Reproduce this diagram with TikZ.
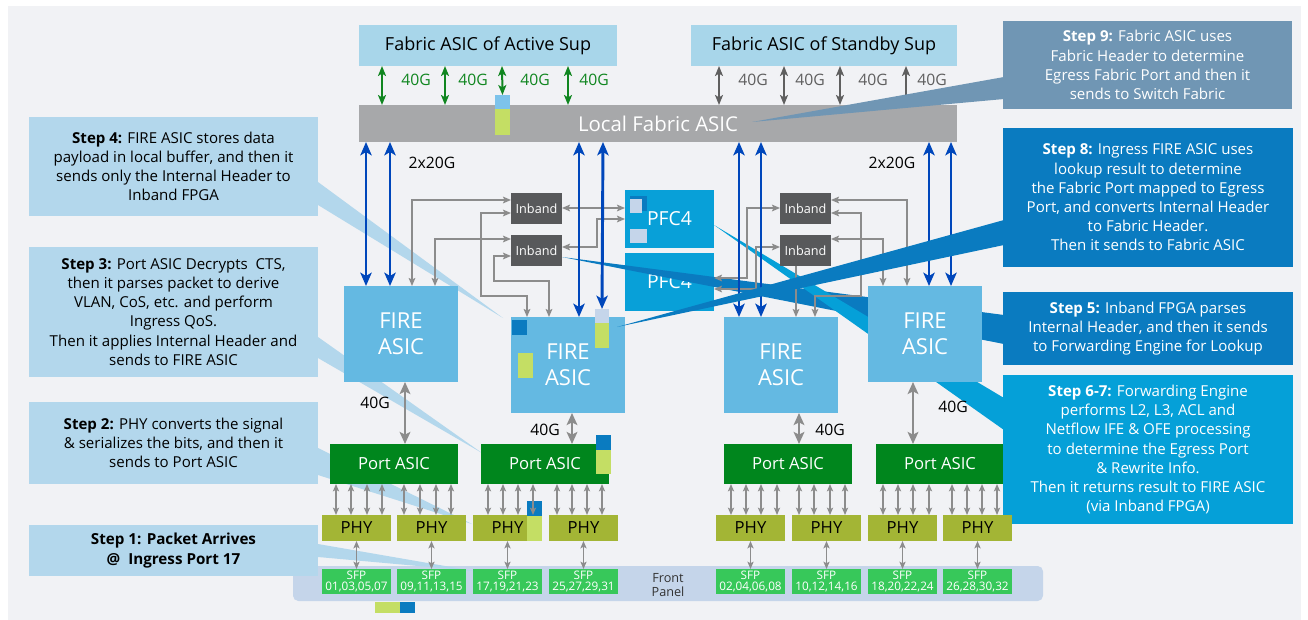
\documentclass[tikz,border=0pt]{standalone}
\usepackage{fontspec}
\setmainfont{Open Sans}
\usetikzlibrary{arrows.meta}

\definecolor{bgc}{RGB}{241,242,245}
\definecolor{supc}{RGB}{168,214,234}
\definecolor{lfac}{RGB}{167,168,170}
\definecolor{firec}{RGB}{100,185,226}
\definecolor{pfcc}{RGB}{8,160,216}
\definecolor{inbc}{RGB}{88,89,91}
\definecolor{pac}{RGB}{0,134,29}
\definecolor{phyc}{RGB}{163,181,53}
\definecolor{sfpc}{RGB}{55,200,90}
\definecolor{fpc}{RGB}{197,213,234}
\definecolor{lblue}{RGB}{179,215,236}
\definecolor{steel}{RGB}{112,150,180}
\definecolor{dblue}{RGB}{10,123,192}
\definecolor{cblue}{RGB}{5,160,216}
\definecolor{royal}{RGB}{0,71,187}
\definecolor{wire}{RGB}{140,140,140}
\definecolor{dgray}{RGB}{95,95,95}
\definecolor{gline}{RGB}{16,134,32}
\definecolor{mkblue}{RGB}{125,195,235}
\definecolor{mkgreen}{RGB}{196,222,100}
\definecolor{mklav}{RGB}{197,213,234}

\newcommand{\fsCall}{\fontsize{11.3}{14.4}\selectfont}
\newcommand{\fsOne}{\fontsize{11.4}{15.2}\selectfont\bfseries}
\newcommand{\fsSup}{\fontsize{13.5}{15}\selectfont}
\newcommand{\fsLfa}{\fontsize{15.3}{17}\selectfont}
\newcommand{\fsLbl}{\fontsize{11.8}{13}\selectfont}
\newcommand{\fsFire}{\fontsize{16.5}{19.5}\selectfont}
\newcommand{\fsPfc}{\fontsize{14.5}{16}\selectfont}
\newcommand{\fsInb}{\fontsize{9.5}{11}\selectfont}
\newcommand{\fsPa}{\fontsize{12.5}{15}\selectfont}
\newcommand{\fsSfp}{\fontsize{8.8}{8.9}\selectfont}
\newcommand{\fsFp}{\fontsize{9.5}{11}\selectfont}

\tikzset{
  % a block given by its left, top, right and bottom edges
  area/.style args={#1/#2/#3/#4}{
    minimum width={(#3-#1)*0.75pt}, minimum height={(#4-#2)*0.75pt},
    at={({(#1+#3)/2},{(#2+#4)/2})}},
  box/.style={inner sep=0pt, outer sep=0pt, align=center},
  callout/.style={box, font=\fsCall},
  fire/.style={box, fill=firec, text=white, font=\fsFire},
  inb/.style={box, fill=inbc, text=white, font=\fsInb},
  pfc/.style={box, fill=pfcc, text=white, font=\fsPfc},
  pasic/.style={box, fill=pac, text=white, font=\fsPa},
  phyb/.style={box, fill=phyc, text=black, font=\fsPa},
  sfpb/.style={box, fill=sfpc, text=white, font=\fsSfp},
  gw/.style={draw=wire, line width=1.1pt,
    {Stealth[length=6pt,width=5pt,inset=1.2pt]}-{Stealth[length=6pt,width=5pt,inset=1.2pt]}},
  gwone/.style={draw=wire, line width=1.1pt, -{Stealth[length=6pt,width=5pt,inset=1.2pt]}},
  pw/.style={draw=wire, line width=1.1pt,
    {Stealth[length=5.5pt,width=4.6pt,inset=1.2pt]}-{Stealth[length=5.5pt,width=4.6pt,inset=1.2pt]}},
  bigg/.style={draw=wire, line width=2pt,
    {Stealth[length=9pt,width=8pt,inset=2pt]}-{Stealth[length=9pt,width=8pt,inset=2pt]}},
  barr/.style={draw=royal, line width=2.2pt,
    {Stealth[length=10pt,width=8.5pt,inset=2.5pt]}-{Stealth[length=10pt,width=8.5pt,inset=2.5pt]}},
  grarr/.style={draw=gline, line width=1.5pt,
    {Stealth[length=7.5pt,width=6pt,inset=1.8pt]}-{Stealth[length=7.5pt,width=6pt,inset=1.8pt]}},
  sbarr/.style={draw=dgray, line width=1.5pt,
    {Stealth[length=7.5pt,width=6pt,inset=1.8pt]}-{Stealth[length=7.5pt,width=6pt,inset=1.8pt]}},
  lbl/.style={inner sep=0pt, font=\fsLbl},
}

\begin{document}
\begin{tikzpicture}[x=0.75pt,y=-0.75pt]
\useasboundingbox (0,0) rectangle (1308,620);
\fill[white] (0,0) rectangle (1308,620);
\fill[bgc] (8,6) rectangle (1301,620);

% front panel strip
\node[box, fill=fpc, rounded corners=4pt, area=293/566/1043/601] (fp) {};
\node[box, font=\fsFp, text=black!80] (fptxt) at (668,585) {Front\\Panel};

% supervisor fabric ASICs and local fabric ASIC
\node[box, fill=supc, font=\fsSup, area=359/25/617/66] (act) {Fabric ASIC of Active Sup};
\node[box, fill=supc, font=\fsSup, area=691/25/957/66] (stb) {Fabric ASIC of Standby Sup};
\node[box, fill=lfac, text=white, font=\fsLfa, area=359/105/957/142] (lfa) {Local Fabric ASIC};
\node[box, fill=mkblue, area=495/95/510/109] (mkl) {};
\node[box, fill=mkgreen, area=495/109/510/135] (mkl2) {};

% links to the supervisors
\foreach \x in {382,445,568} \draw[grarr] (\x,0 |- act.south) -- (\x,0 |- lfa.north);
\draw[grarr] (502,0 |- act.south) -- (mkl.north);
\foreach \x/\t in {416/a1,473/a2,535/a3,594/a4}
  \node[lbl, text=gline] (\t) at (\x,80) {40G};
\foreach \x in {719,784,840,906} \draw[sbarr] (\x,0 |- stb.south) -- (\x,0 |- lfa.north);
\foreach \x/\t in {753/s1,810/s2,873/s3,932/s4}
  \node[lbl, text=dgray] (\t) at (\x,80) {40G};

% forwarding engines
\node[pfc, area=625/190/714/248] (pfcA) {PFC4};
\node[pfc, area=625/253/714/311] (pfcB) {PFC4};
\fill[dblue] (630,196) rectangle (647,211);
\fill[mklav] (630,199) rectangle (642,213);
\fill[mklav] (630,229) rectangle (647,243);

% callout pointers drawn beneath the blocks
\coordinate (t3) at (482,453);
\coordinate (t4) at (503,318);
\coordinate (t5) at (562,257);
\coordinate (t67) at (714,225);
\coordinate (t2) at (472,524);
\coordinate (t1) at (474,571);
\fill[lblue] (318,337) -- (318,358) -- (t3) -- cycle;
\fill[lblue] (318,182) -- (318,205) -- (t4) -- cycle;
\fill[lblue] (318,448) -- (318,475) -- (t2) -- cycle;
\fill[lblue] (318,544) -- (318,557) -- (t1) -- cycle;
\fill[dblue] (1004,315) -- (1004,344) -- (t5) -- cycle;
\fill[cblue] (1004,398) -- (1004,430) -- (t67) -- cycle;

% FIRE ASICs
\node[fire, area=344/286/458/382] (fire1) {FIRE\\ASIC};
\node[fire, area=511/317/625/413] (fire2) {FIRE\\ASIC};
\node[fire, area=724/317/838/413] (fire3) {FIRE\\ASIC};
\node[fire, area=868/286/982/382] (fire4) {FIRE\\ASIC};
\fill[dblue] (512,320) rectangle (527,335);
\fill[mkgreen] (518,353) rectangle (533,378);
\node[box, fill=mklav, area=595/309/609/323] (mkf) {};
\fill[mkgreen] (595,323) rectangle (609,348);

% inband FPGAs
\node[inb, area=511/193/562/224] (ib1) {Inband};
\node[inb, area=511/235/562/266] (ib2) {Inband};
\node[inb, area=780/193/831/224] (ib3) {Inband};
\node[inb, area=780/235/831/266] (ib4) {Inband};

% inband wiring, left half
\draw[gw] (412,0 |- fire1.north) |- (ib1.west |- 0,200);
\draw[gw] (435,0 |- fire1.north) |- (ib2.west |- 0,239);
\draw[gw] (527,0 |- fire2.north) -- (527,296) -- (481,296) |- (ib1.west |- 0,213);
\draw[gw] (549,0 |- fire2.north) -- (549,281) -- (494,281) |- (ib2.west |- 0,256);
\draw[gw] (ib1.east |- 0,208) -- (pfcA.west |- 0,208);
\draw[gw] (ib2.east |- 0,247) -- (597,247) |- (pfcA.west |- 0,219);
% inband wiring, right half
\draw[gw] (pfcB.east |- 0,278) -- (747,278) |- (ib3.west |- 0,208);
\draw[gw] (pfcB.east |- 0,289) -- (756,289) |- (ib4.west |- 0,247);
\draw[gw] (ib3.east |- 0,200) -| (907,0 |- fire4.north);
\draw[gw] (ib3.east |- 0,213) -- (861,213) -- (861,296) -- (815,296) -- (815,0 |- fire3.north);
\draw[gw] (ib4.east |- 0,239) -| (883,0 |- fire4.north);
\draw[gwone] (796,0 |- ib4.south) -- (796,0 |- fire3.north);

% 2x20G links to the local fabric ASIC
\foreach \x in {366,390} \draw[barr] (\x,0 |- lfa.south) -- (\x,0 |- fire1.north);
\draw[barr] (579,0 |- lfa.south) -- (579,0 |- fire2.north);
\draw[barr] (603,0 |- lfa.south) -- (mkf.north);
\foreach \x in {739,761} \draw[barr] (\x,0 |- lfa.south) -- (\x,0 |- fire3.north);
\foreach \x in {929,951} \draw[barr] (\x,0 |- lfa.south) -- (\x,0 |- fire4.north);
\node[lbl] (bw1) at (432,163) {2x20G};
\node[lbl] (bw2) at (892,163) {2x20G};

% port ASICs
\node[pasic, area=330/444/458/484] (pa1) {Port ASIC};
\node[pasic, area=481/444/609/484] (pa2) {Port ASIC};
\node[pasic, area=724/444/852/484] (pa3) {Port ASIC};
\node[pasic, area=876/444/1004/484] (pa4) {Port ASIC};
\fill[dblue] (596,435) rectangle (611,450);
\fill[mkgreen] (596,450) rectangle (611,474);

% FIRE ASIC to port ASIC links
\draw[bigg] (405,0 |- fire1.south) -- (405,0 |- pa1.north);
\draw[bigg] (572,0 |- fire2.south) -- (572,0 |- pa2.north);
\draw[bigg] (799,0 |- fire3.south) -- (799,0 |- pa3.north);
\draw[bigg] (913,0 |- fire4.south) -- (913,0 |- pa4.north);
\node[lbl] (g1) at (375,403) {40G};
\node[lbl] (g2) at (545,430) {40G};
\node[lbl] (g3) at (830,430) {40G};
\node[lbl] (g4) at (953,407) {40G};

% callout boxes
\node[callout, fill=steel, text=white, area=1003/21/1292/109] (s9)
  {\textbf{Step 9:} Fabric ASIC uses\\Fabric Header to determine\\Egress Fabric Port and then it\\sends to Switch Fabric};
\coordinate (t9) at (752,122);
\fill[steel] (1004,77) -- (1004,99) -- (t9) -- cycle;
\node[callout, fill=lblue, area=29/117/318/216] (s4)
  {\textbf{Step 4:} FIRE ASIC stores data\\payload in local buffer, and then it\\sends only the Internal Header to\\Inband FPGA};
\node[callout, fill=lblue, area=29/247/318/377] (s3)
  {\textbf{Step 3:} Port ASIC Decrypts\ \ CTS,\\then it parses packet to derive\\VLAN, CoS, etc. and perform\\Ingress QoS.\\Then it applies Internal Header and\\sends to FIRE ASIC};
\node[callout, fill=lblue, area=29/402/318/484] (s2)
  {\textbf{Step 2:} PHY converts the signal\\\& serializes the bits, and then it\\sends to Port ASIC};
\node[callout, fill=lblue, font=\fsOne, area=29/525/318/576] (s1)
  {Step 1: Packet Arrives\\@\ \ Ingress Port 17};
\coordinate (t8) at (617,327);
\fill[dblue] (1004,220) -- (1004,245) -- (t8) -- cycle;
\node[callout, fill=dblue, text=white, area=1003/128/1293/267] (s8)
  {\textbf{Step 8:} Ingress FIRE ASIC uses\\lookup result to determine\\the Fabric Port mapped to Egress\\Port, and converts Internal Header\\to Fabric Header.\\Then it sends to Fabric ASIC};
\node[callout, fill=dblue, text=white, area=1003/292/1293/365] (s5)
  {\textbf{Step 5:} Inband FPGA parses\\Internal Header, and then it sends\\to Forwarding Engine for Lookup};
\node[callout, fill=cblue, text=white, area=1003/375/1293/524] (s67)
  {\textbf{Step 6-7:} Forwarding Engine\\performs L2, L3, ACL and\\Netflow IFE \& OFE processing\\to determine the Egress Port\\\& Rewrite Info.\\Then it returns result to FIRE ASIC\\(via Inband FPGA)};

% PHYs and SFP cages
\foreach \n/\a/\b in {1/322/391,2/397/466,3/473/542,4/549/618,5/716/785,6/792/861,7/868/937,8/943/1012}{
  \node[phyb, area=\a/515/\b/541] (phy\n) {PHY};
}
\foreach \n/\a/\b/\t in {1/322/391/{01,03,05,07},2/397/466/{09,11,13,15},3/473/542/{17,19,21,23},4/549/618/{25,27,29,31},
  5/716/785/{02,04,06,08},6/792/861/{10,12,14,16},7/868/937/{18,20,22,24},8/943/1012/{26,28,30,32}}{
  \node[sfpb, area=\a/569/\b/594] (sfp\n) {SFP\\\t};
  \draw[pw] (phy\n.south) -- (sfp\n.north);
}
\fill[dblue] (527,501) rectangle (542,516);
\fill[mkgreen] (527,516) rectangle (542,541);

% port ASIC to PHY lanes
\foreach \x in {336,351,367,382,404,420,436,451} \draw[pw] (\x,0 |- pa1.south) -- (\x,0 |- phy1.north);
\foreach \x in {488,503,518,533,557,572,587,602} \draw[pw] (\x,0 |- pa2.south) -- (\x,0 |- phy3.north);
\foreach \x in {731,746,761,777,799,814,830,845} \draw[pw] (\x,0 |- pa3.south) -- (\x,0 |- phy5.north);
\foreach \x in {883,898,913,929,952,967,982,997} \draw[pw] (\x,0 |- pa4.south) -- (\x,0 |- phy7.north);

% legend swatch under the front panel
\fill[mkgreen] (375,602) rectangle (400,613);
\fill[dblue] (400,602) rectangle (415,613);
\end{tikzpicture}
\end{document}
